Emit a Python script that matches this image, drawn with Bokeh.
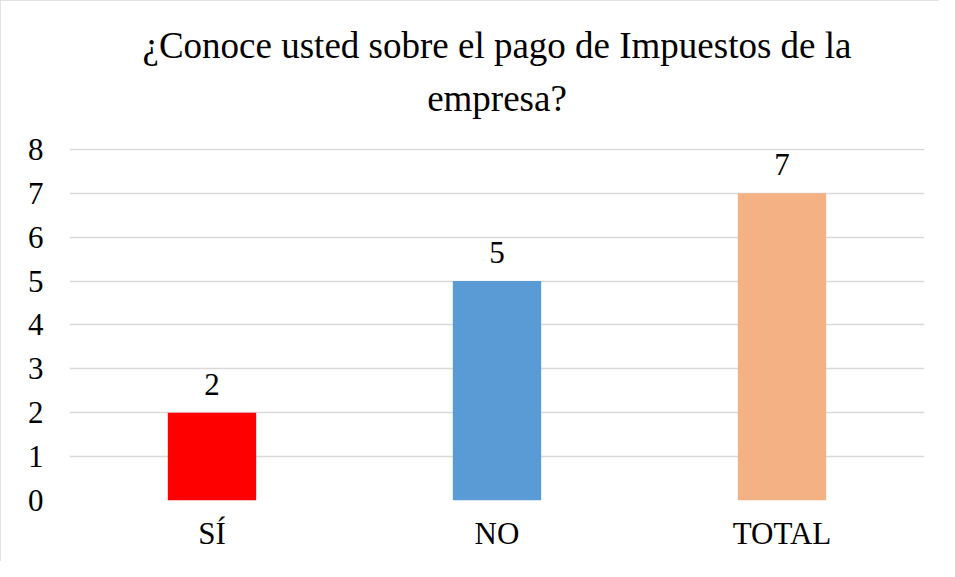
from bokeh.plotting import figure
from bokeh.models import ColumnDataSource, LabelSet, Range1d, FixedTicker, Title
from bokeh.embed import file_html
from bokeh.resources import INLINE

categories = ["SÍ", "NO", "TOTAL"]
values = [2, 5, 7]
colors = ["#FF0000", "#5B9BD5", "#F4B183"]
y_ticks = [0, 1, 2, 3, 4, 5, 6, 7, 8]
title_line1 = "¿Conoce usted sobre el pago de Impuestos de la"
title_line2 = "empresa?"

FONT = "Liberation Serif"

src = ColumnDataSource(dict(cat=categories, val=values, color=colors,
                            lbl=[str(v) for v in values]))

p = figure(x_range=categories, width=939, height=561, output_backend="svg",
           toolbar_location=None, min_border_left=69, min_border_right=15,
           min_border_top=148, min_border_bottom=61)
p.y_range = Range1d(0, 8.02)
p.title = None

t2 = Title(text=title_line2, align="center", text_font=FONT,
           text_font_size="37px", text_font_style="normal", text_color="#000000",
           offset=0, standoff=59)
p.add_layout(t2, "above")
t1 = Title(text=title_line1, align="center", text_font=FONT,
           text_font_size="37px", text_font_style="normal", text_color="#000000",
           offset=0, standoff=-38)
p.add_layout(t1, "above")

p.vbar(x="cat", top="val", width=0.31, color="color", source=src, line_color=None)

labels = LabelSet(x="cat", y="val", text="lbl", source=src, text_align="center",
                  text_baseline="bottom", y_offset=18, text_font=FONT,
                  text_font_size="31px", text_color="#000000")
p.add_layout(labels)

p.yaxis.ticker = FixedTicker(ticks=y_ticks)
for ax in (p.xaxis, p.yaxis):
    ax.axis_line_color = None
    ax.major_tick_line_color = None
    ax.minor_tick_line_color = None
    ax.major_label_text_font = FONT
    ax.major_label_text_font_size = "31px"
    ax.major_label_text_color = "#000000"
p.yaxis.major_label_standoff = 20
p.xaxis.major_label_standoff = 9

p.xgrid.grid_line_color = None
p.ygrid.grid_line_color = "#D9D9D9"
p.ygrid.grid_line_width = 1.5
p.outline_line_color = None
p.x_range.range_padding = 0.0
p.styles = {"outline": "1px solid #D9D9D9", "outline-offset": "-1px"}

open("out.html", "w").write(file_html(p, INLINE))
